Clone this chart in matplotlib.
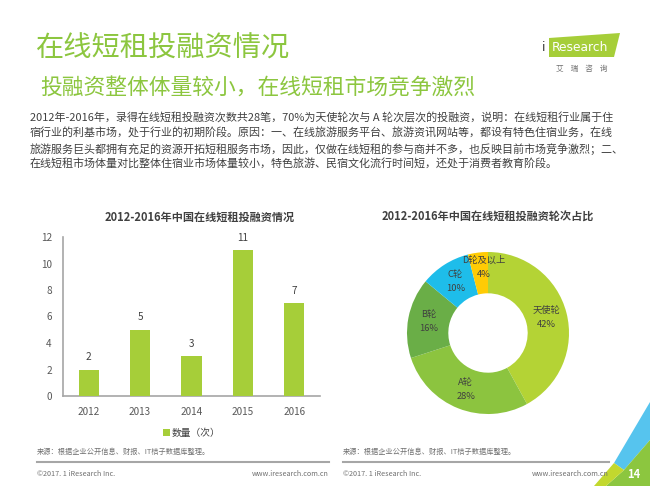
import matplotlib
matplotlib.use('Agg')
import matplotlib.pyplot as plt
from matplotlib.patches import Polygon
import numpy as np

plt.rcParams['font.family'] = ['Noto Sans CJK SC', 'DejaVu Sans']

W, H = 650, 486

# ── Dados ──────────────────────────────────────────────────────────────────────
anos = ['2012', '2013', '2014', '2015', '2016']
qtd = [2, 5, 3, 11, 7]

rodadas = ['天使轮', 'A轮', 'B轮', 'C轮', 'D轮及以上']
pct = [42, 28, 16, 10, 4]

VERDE_T = '#8CC63F'
VERDE_B = '#A6CE39'
TXT = '#404040'
CINZA = '#595959'
cores_pie = ['#B4D335', '#8CC43F', '#6AAE47', '#1EBDEA', '#FFCB05']

corpo = [
    '2012年-2016年，录得在线短租投融资次数共28笔，70%为天使轮次与 A 轮次层次的投融资，说明：在线短租行业属于住',
    '宿行业的利基市场，处于行业的初期阶段。原因：一、在线旅游服务平台、旅游资讯网站等，都设有特色住宿业务，在线',
    '旅游服务巨头都拥有充足的资源开拓短租服务市场，因此，仅做在线短租的参与商并不多，也反映目前市场竞争激烈；二、',
    '在线短租市场体量对比整体住宿业市场体量较小，特色旅游、民宿文化流行时间短，还处于消费者教育阶段。',
]

fig = plt.figure(figsize=(W / 100, H / 100), dpi=100, facecolor='white')


def fx(x):
    return x / W


def fy(y):
    return 1 - y / H


# ── Cabeçalho ──────────────────────────────────────────────────────────────────
fig.text(fx(36), fy(49), '在线短租投融资情况', fontsize=20.3, color=VERDE_T,
         va='center', ha='left')
fig.text(fx(40), fy(89), '投融资整体体量较小，在线短租市场竞争激烈', fontsize=15.7,
         color=VERDE_T, va='center', ha='left')
for i, linha in enumerate(corpo):
    fig.text(fx(30), fy(118 + i * 15.5), linha, fontsize=7.95, color=TXT,
             va='center', ha='left')

# logo
fig.patches.append(Polygon([(fx(549), fy(57)), (fx(549), fy(38)), (fx(620), fy(33)),
                            (fx(614), fy(57))], closed=True, transform=fig.transFigure,
                           facecolor='#A6CE39', edgecolor='none'))
fig.text(fx(544), fy(47), 'i', fontsize=9, color='#3A3A3A', ha='center',
         va='center', family='DejaVu Sans')
fig.text(fx(580), fy(47), 'Research', fontsize=8.8, color='white', ha='center',
         va='center', family='DejaVu Sans')
fig.text(fx(582), fy(69), '艾    瑞    咨    询', fontsize=5.5, color='#707070',
         ha='center', va='center')

# ── Gráfico de barras ──────────────────────────────────────────────────────────
ax = fig.add_axes([fx(63), fy(396), (320 - 63) / W, (396 - 237) / H])
x = np.arange(len(anos))
barras = ax.bar(x, qtd, width=0.39, color=VERDE_B, label='数量（次）', zorder=3)
for xi, v in zip(x, qtd):
    ax.text(xi, v + 0.55, str(v), ha='center', va='bottom', fontsize=7.2, color=TXT)
ax.set_xlim(-0.5, 4.5)
ax.set_ylim(0, 12)
ax.set_yticks([0, 2, 4, 6, 8, 10, 12])
ax.set_xticks(x)
ax.set_xticklabels(anos)
ax.tick_params(length=0, labelsize=7.2, colors=CINZA, pad=8)
for s in ['top', 'right']:
    ax.spines[s].set_visible(False)
for s in ['left', 'bottom']:
    ax.spines[s].set_color('#A6A6A6')
    ax.spines[s].set_linewidth(1.2)
ax.legend(handles=[barras], loc='center', bbox_to_anchor=(0.5, -0.23),
          frameon=False, fontsize=7, handlelength=0.7, handleheight=0.7,
          handletextpad=0.2, labelcolor=TXT)
fig.text(fx(200), fy(217), '2012-2016年中国在线短租投融资情况', fontsize=8,
         fontweight='bold', color=TXT, ha='center', va='center')

# ── Gráfico de rosca ───────────────────────────────────────────────────────────
cx, cy, r = 488, 333, 81
axp = fig.add_axes([fx(cx - 100), fy(cy + 100), 200 / W, 200 / H])
wedges, _ = axp.pie(pct, colors=cores_pie, startangle=90, counterclock=False,
                    radius=1, wedgeprops=dict(width=0.51, edgecolor='none'))
lim = 100 / r
axp.set_xlim(-lim, lim)
axp.set_ylim(-lim, lim)
axp.set_aspect('equal')
axp.axis('off')
for w, nome, p in zip(wedges, rodadas, pct):
    ang = np.deg2rad((w.theta1 + w.theta2) / 2)
    px, py = 0.75 * np.cos(ang), 0.75 * np.sin(ang)
    if p < 5:
        px, py = -0.05, 0.81
    axp.text(px, py, f'{nome}\n{p}%', ha='center', va='center', fontsize=6.7,
             color=TXT, linespacing=1.7)
fig.text(fx(488), fy(217), '2012-2016年中国在线短租投融资轮次占比', fontsize=8,
         fontweight='bold', color=TXT, ha='center', va='center')

# ── Rodapé ─────────────────────────────────────────────────────────────────────
fonte = '来源：根据企业公开信息、财报、IT桔子数据库整理。'
for x0, x1 in [(37, 329), (343, 609)]:
    fig.text(fx(x0), fy(452), fonte, fontsize=5.2, color='#707070', va='center')
    fig.add_artist(plt.Line2D([fx(x0), fx(x1)], [fy(462), fy(462)],
                              color='#A6A6A6', linewidth=1.5))
    fig.text(fx(x0), fy(474), '©2017. 1 iResearch Inc.', fontsize=5.2,
             color='#707070', va='center')
    fig.text(fx(x1), fy(474), 'www.iresearch.com.cn', fontsize=5.2,
             color='#707070', va='center', ha='right')

# canto decorativo
cantos = [
    ([(650, 402), (650, 440), (624, 470), (614, 463)], '#56C4EE'),
    ([(650, 440), (650, 486), (606, 486), (624, 470)], '#8CC63F'),
    ([(614, 463), (624, 470), (606, 486), (594, 486)], '#C2D82E'),
]
for pts, cor in cantos:
    fig.patches.append(Polygon([(fx(a), fy(b)) for a, b in pts], closed=True,
                               transform=fig.transFigure, facecolor=cor,
                               edgecolor='none'))
fig.text(fx(634), fy(474), '14', fontsize=8, color='white', ha='center',
         va='center', fontweight='bold')

fig.savefig('out.png', dpi=100, facecolor='white')
